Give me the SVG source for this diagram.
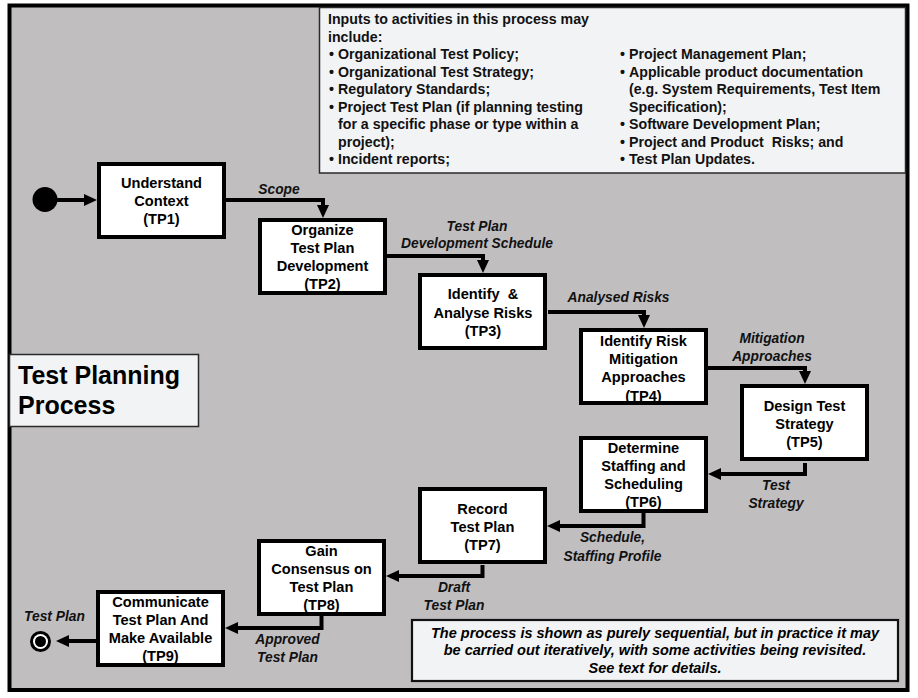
<svg xmlns="http://www.w3.org/2000/svg" width="918" height="698" viewBox="0 0 918 698">
<style>
.node rect{fill:#fff;stroke:#000;stroke-width:4}
.nt{font-family:"Liberation Sans",Arial,sans-serif;font-weight:bold;font-size:14.6px;text-anchor:middle;fill:#000}
.info{font-family:"Liberation Sans",Arial,sans-serif;font-weight:bold;font-size:14.2px;fill:#111}
.lbl{font-family:"Liberation Sans",Arial,sans-serif;font-weight:bold;font-style:italic;font-size:13.8px;text-anchor:middle;fill:#111}
.note{font-family:"Liberation Sans",Arial,sans-serif;font-weight:bold;font-style:italic;font-size:14.5px;text-anchor:middle;fill:#000}
.title{font-family:"Liberation Sans",Arial,sans-serif;font-weight:bold;font-size:25px;fill:#000}
.conn path{fill:none;stroke:#000;stroke-width:4;stroke-linejoin:miter}
</style>
<defs>
<marker id="ah" markerUnits="userSpaceOnUse" markerWidth="14" markerHeight="13" refX="1" refY="6.5" orient="auto">
<path d="M0,0.5 L13,6.5 L0,12.5 z" fill="#000"/>
</marker>
</defs>
<rect x="0" y="0" width="918" height="698" fill="#fff"/>
<rect id="frame" x="9.5" y="5.5" width="898" height="684.5" fill="#c0bebf" stroke="#000" stroke-width="4"/>

<g id="inputs">
<rect x="319.5" y="7.5" width="586" height="165.5" fill="#f2f3f5" stroke="#2a2a2a" stroke-width="1.5"/>
<text class="info" x="328" y="24">Inputs to activities in this process may</text>
<text class="info" x="328" y="41.5">include:</text>
<text class="info" y="59"><tspan x="329">•</tspan><tspan x="338">Organizational Test Policy;</tspan></text>
<text class="info" y="77"><tspan x="329">•</tspan><tspan x="338">Organizational Test Strategy;</tspan></text>
<text class="info" y="94"><tspan x="329">•</tspan><tspan x="338">Regulatory Standards;</tspan></text>
<text class="info" y="112"><tspan x="329">•</tspan><tspan x="338">Project Test Plan (if planning testing</tspan></text>
<text class="info" x="338" y="129">for a specific phase or type within a</text>
<text class="info" x="338" y="147">project);</text>
<text class="info" y="164"><tspan x="329">•</tspan><tspan x="338">Incident reports;</tspan></text>
<text class="info" y="59"><tspan x="620">•</tspan><tspan x="629">Project Management Plan;</tspan></text>
<text class="info" y="77"><tspan x="620">•</tspan><tspan x="629">Applicable product documentation</tspan></text>
<text class="info" x="629" y="94">(e.g. System Requirements, Test Item</text>
<text class="info" x="629" y="112">Specification);</text>
<text class="info" y="129"><tspan x="620">•</tspan><tspan x="629">Software Development Plan;</tspan></text>
<text class="info" y="147"><tspan x="620">•</tspan><tspan x="629">Project and Product&#160; Risks; and</tspan></text>
<text class="info" y="164"><tspan x="620">•</tspan><tspan x="629">Test Plan Updates.</tspan></text>
</g>

<g id="title">
<rect x="9.5" y="354.5" width="189" height="72" fill="#f2f3f5" stroke="#2a2a2a" stroke-width="1.5"/>
<text class="title" x="18" y="383.5">Test Planning</text>
<text class="title" x="18" y="414">Process</text>
</g>

<g id="note">
<rect x="412" y="620" width="486" height="61" fill="#f2f3f5" stroke="#111" stroke-width="2.2"/>
<text class="note" x="655" y="638">The process is shown as purely sequential, but in practice it may</text>
<text class="note" x="655" y="655">be carried out iteratively, with some activities being revisited.</text>
<text class="note" x="655" y="673">See text for details.</text>
</g>

<g class="conn" id="connectors">
<path d="M57 200 H85" marker-end="url(#ah)"/>
<path d="M226 200 H323 V206" marker-end="url(#ah)"/>
<path d="M387 256 H483 V261" marker-end="url(#ah)"/>
<path d="M548 312 H644 V316" marker-end="url(#ah)"/>
<path d="M708 368 H805 V372" marker-end="url(#ah)"/>
<path d="M805 463 V474 H720" marker-end="url(#ah)"/>
<path d="M643.5 513 V526 H559" marker-end="url(#ah)"/>
<path d="M482.5 565 V576 H398" marker-end="url(#ah)"/>
<path d="M321.5 616 V628 H237" marker-end="url(#ah)"/>
<path d="M96 641 H68" marker-end="url(#ah)"/>
<text class="lbl" x="279" y="194">Scope</text>
<text class="lbl" x="477" y="231">Test Plan</text>
<text class="lbl" x="477" y="248">Development Schedule</text>
<text class="lbl" x="618.5" y="302">Analysed Risks</text>
<text class="lbl" x="772" y="343">Mitigation</text>
<text class="lbl" x="772" y="361">Approaches</text>
<text class="lbl" x="776" y="490">Test</text>
<text class="lbl" x="776" y="508">Strategy</text>
<text class="lbl" x="612.5" y="542">Schedule,</text>
<text class="lbl" x="612.5" y="560.5">Staffing Profile</text>
<text class="lbl" x="454" y="592">Draft</text>
<text class="lbl" x="454" y="610">Test Plan</text>
<text class="lbl" x="287.5" y="644">Approved</text>
<text class="lbl" x="287.5" y="662">Test Plan</text>
<text class="lbl" x="54.5" y="621">Test Plan</text>
</g>

<g id="start"><circle cx="45" cy="199.5" r="12.5" fill="#000"/></g>
<g id="end">
<circle cx="40.5" cy="641.5" r="10.5" fill="#000"/>
<circle cx="40.5" cy="641.5" r="7.5" fill="#fff"/>
<circle cx="40.5" cy="641.5" r="5.5" fill="#000"/>
</g>

<g id="TP1" class="node"><rect x="99" y="164" width="125" height="73"/>
<text class="nt" x="161.5" y="187.5">Understand</text><text class="nt" x="161.5" y="205.5">Context</text><text class="nt" x="161.5" y="224">(TP1)</text></g>
<g id="TP2" class="node"><rect x="260" y="220" width="125" height="73"/>
<text class="nt" x="322.5" y="235">Organize</text><text class="nt" x="322.5" y="253">Test Plan</text><text class="nt" x="322.5" y="271">Development</text><text class="nt" x="322.5" y="289">(TP2)</text></g>
<g id="TP3" class="node"><rect x="420" y="275" width="125" height="73"/>
<text class="nt" x="483" y="299">Identify&#160; &amp;</text><text class="nt" x="483" y="317.5">Analyse Risks</text><text class="nt" x="483" y="336">(TP3)</text></g>
<g id="TP4" class="node"><rect x="581" y="330" width="125" height="73"/>
<text class="nt" x="643.5" y="346">Identify Risk</text><text class="nt" x="643.5" y="364">Mitigation</text><text class="nt" x="643.5" y="382">Approaches</text><text class="nt" x="643.5" y="400.5">(TP4)</text></g>
<g id="TP5" class="node"><rect x="742" y="386" width="125" height="73"/>
<text class="nt" x="804.5" y="411">Design Test</text><text class="nt" x="804.5" y="429">Strategy</text><text class="nt" x="804.5" y="447">(TP5)</text></g>
<g id="TP6" class="node"><rect x="581" y="438" width="125" height="73"/>
<text class="nt" x="643.5" y="453">Determine</text><text class="nt" x="643.5" y="471">Staffing and</text><text class="nt" x="643.5" y="489">Scheduling</text><text class="nt" x="643.5" y="507">(TP6)</text></g>
<g id="TP7" class="node"><rect x="420" y="489" width="125" height="73"/>
<text class="nt" x="482.5" y="514">Record</text><text class="nt" x="482.5" y="532">Test Plan</text><text class="nt" x="482.5" y="550">(TP7)</text></g>
<g id="TP8" class="node"><rect x="259" y="541" width="125" height="73"/>
<text class="nt" x="321.5" y="556">Gain</text><text class="nt" x="321.5" y="574">Consensus on</text><text class="nt" x="321.5" y="592">Test Plan</text><text class="nt" x="321.5" y="610">(TP8)</text></g>
<g id="TP9" class="node"><rect x="98" y="592" width="125" height="73"/>
<text class="nt" x="160.5" y="607">Communicate</text><text class="nt" x="160.5" y="625">Test Plan And</text><text class="nt" x="160.5" y="643">Make Available</text><text class="nt" x="160.5" y="661">(TP9)</text></g>
</svg>
